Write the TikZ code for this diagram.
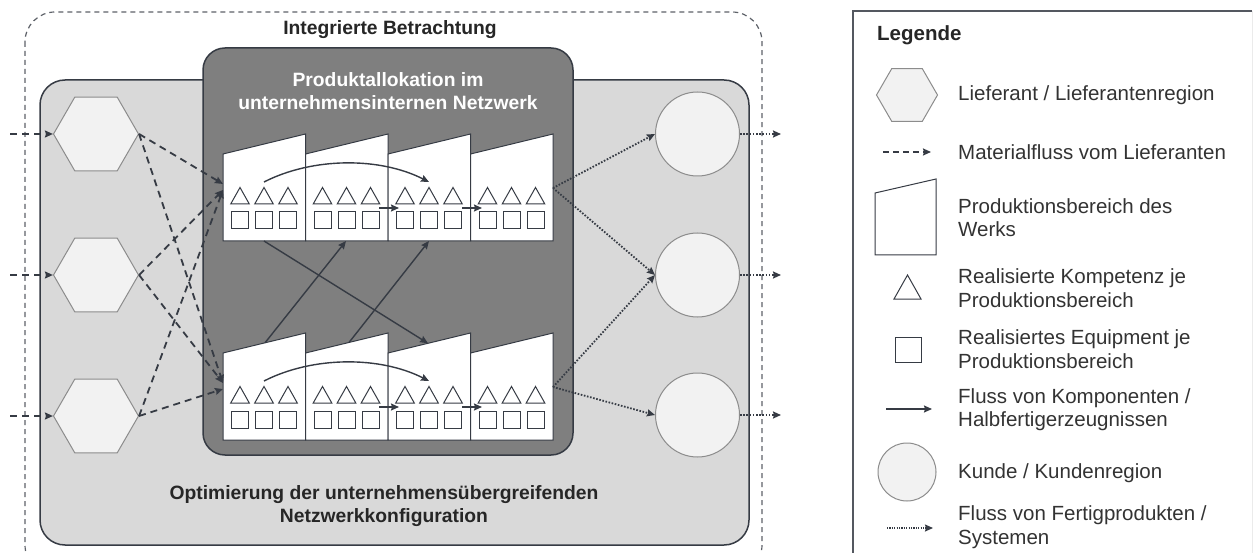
\documentclass[tikz,border=0pt]{standalone}
\usepackage{fontspec}
\setmainfont{Liberation Sans}
\usetikzlibrary{shapes.geometric,arrows.meta}
\definecolor{lnc}{HTML}{363B44}
\definecolor{lightbg}{HTML}{D9D9D9}
\definecolor{darkbg}{HTML}{7F7F7F}
\definecolor{shapefill}{HTML}{F2F2F2}
\definecolor{shapeline}{HTML}{8C8C8C}
\definecolor{txt}{HTML}{262626}
\definecolor{legtxt}{HTML}{333333}
\tikzset{
  tip/.style={-{Stealth[length=8pt,width=7pt,inset=1pt]}},
  solidflow/.style={draw=lnc,line width=1.4pt,tip},
  dashflow/.style={draw=lnc,line width=1.8pt,dash pattern=on 7pt off 5pt,tip},
  dotflow/.style={draw=lnc,line width=1.8pt,dash pattern=on 1.6pt off 1.6pt,tip},
  secline/.style={draw=lnc,line width=1pt,fill=white},
  symline/.style={draw=lnc,line width=1pt},
  hexa/.style={regular polygon,regular polygon sides=6,minimum size=85pt,inner sep=0pt,fill=shapefill,draw=shapeline,line width=1pt},
  cust/.style={circle,minimum size=84pt,inner sep=0pt,fill=shapefill,draw=shapeline,line width=1pt},
  boldtitle/.style={font=\fontsize{19.3}{23}\selectfont\bfseries,align=center,inner sep=0pt},
  legtext/.style={font=\fontsize{20.5}{23.5}\selectfont,text=legtxt,align=left,anchor=west,inner sep=0pt},
  factory/.pic={
    \foreach \i in {0,1,2,3} {
      \pgfmathsetmacro\xo{82.5*\i}
      \draw[secline] (\xo,0) -- (\xo,-87) -- (\xo+82.5,-107) -- (\xo+82.5,0) -- cycle;
      \foreach \d in {17,41,65} {
        \draw[symline] (\xo+\d-9.3,-37) -- (\xo+\d,-53.5) -- (\xo+\d+9.3,-37) -- cycle;
        \draw[symline] (\xo+\d-8.5,-29) rectangle (\xo+\d+8.5,-12);
      }
    }
    \coordinate (-inA) at (0,-57);
    \coordinate (-inB) at (0,-51);
    \coordinate (-out) at (330,-53);
    \coordinate (-b1) at (41,0);
    \coordinate (-b2) at (123,0);
    \coordinate (-b3) at (206,0);
    \coordinate (-r1) at (42,-97.2);
    \coordinate (-r2) at (126,-97.5);
    \coordinate (-r3) at (205,-96.7);
    \coordinate (-ca) at (41,-59);
    \coordinate (-cb) at (206,-59);
    \coordinate (-sa1) at (156,-33);
    \coordinate (-sa2) at (176,-33);
    \coordinate (-sb1) at (239,-33);
    \coordinate (-sb2) at (259,-33);
    \draw[solidflow] (-ca) .. controls (90,-84) and (157,-84) .. (-cb);
    \draw[solidflow] (-sa1) -- (-sa2);
    \draw[solidflow] (-sb1) -- (-sb2);
  }
}
\begin{document}
\begin{tikzpicture}[x=1pt,y=-1pt]
\clip (0,0) rectangle (1255,553);
\fill[white] (0,0) rectangle (1255,553);

% outer dashed frame
\draw[draw=lnc!80,line width=1.2pt,dash pattern=on 5pt off 4pt,rounded corners=30pt] (25,12) rectangle (762,575);
\node[boldtitle,text=txt] (tInt) at (390,30) {Integrierte Betrachtung};

% light box
\draw[draw=lnc,line width=1.5pt,fill=lightbg,rounded corners=25pt] (40,80) rectangle (749,545);
\node[boldtitle,text=txt] (tOpt) at (384,506) {Optimierung der unternehmensübergreifenden\\Netzwerkkonfiguration};

% dark box
\draw[draw=lnc,line width=1.5pt,fill=darkbg,rounded corners=22pt] (203,48) rectangle (573,455);
\node[boldtitle,text=white] (tProd) at (388,91) {Produktallokation im\\unternehmensinternen Netzwerk};

% factories
\pic (ft) at (223,241) {factory};
\pic (fb) at (223,440) {factory};

% cross flows between plants
\draw[solidflow] (ft-b1) -- (fb-r3);
\draw[solidflow] (fb-r1) -- (ft-b2);
\draw[solidflow] (fb-r2) -- (ft-b3);

% suppliers
\node[hexa] (h1) at (96,134) {};
\node[hexa] (h2) at (96,275) {};
\node[hexa] (h3) at (96,416) {};
\coordinate (i1) at (10,134);
\coordinate (i2) at (10,275);
\coordinate (i3) at (10,416);
\draw[dashflow] (i1) -- (h1.west);
\draw[dashflow] (i2) -- (h2.west);
\draw[dashflow] (i3) -- (h3.west);
\draw[dashflow] (h1.east) -- (ft-inA);
\draw[dashflow] (h1.east) -- (fb-inA);
\draw[dashflow] (h2.east) -- (ft-inB);
\draw[dashflow] (h2.east) -- (fb-inA);
\draw[dashflow] (h3.east) -- (ft-inB);
\draw[dashflow] (h3.east) -- (fb-inB);

% customers
\node[cust] (c1) at (697.5,134) {};
\node[cust] (c2) at (697.5,275) {};
\node[cust] (c3) at (697.5,415) {};
\draw[dotflow] (ft-out) -- (c1.west);
\draw[dotflow] (ft-out) -- (c2.west);
\draw[dotflow] (fb-out) -- (c2.west);
\draw[dotflow] (fb-out) -- (c3.west);
\coordinate (o1) at (781,134);
\coordinate (o2) at (781,275);
\coordinate (o3) at (781,415);
\draw[dotflow] (c1.east) -- (o1);
\draw[dotflow] (c2.east) -- (o2);
\draw[dotflow] (c3.east) -- (o3);

% legend
\draw[draw=black!8,line width=1pt] (1252,11) -- (1252,560);
\draw[draw=lnc!85,line width=1.8pt] (853,560) -- (853,11) -- (1252,11);
\node[font=\fontsize{20.5}{23}\selectfont\bfseries,text=txt,anchor=west,inner sep=0pt] (lTitle) at (877,35) {Legende};

\node[hexa,minimum size=61pt] (lh) at (907,95) {};
\node[legtext] (lhT) at (958,95) {Lieferant / Lieferantenregion};

\coordinate (ld1) at (883,152);
\coordinate (ld2) at (931,152);
\draw[dashflow,line width=1.6pt,dash pattern=on 6pt off 4pt] (ld1) -- (ld2);
\node[legtext] (ldT) at (958,152) {Materialfluss vom Lieferanten};

\draw[secline] (875,255) -- (875,193) -- (936,179) -- (936,255) -- cycle;
\node[legtext] (lfT) at (958,217.5) {Produktionsbereich des\\Werks};

\draw[symline] (894,299) -- (907.5,275) -- (921,299) -- cycle;
\node[legtext] (ltT) at (958,288) {Realisierte Kompetenz je\\Produktionsbereich};

\draw[symline] (895,337) rectangle (921,362);
\node[legtext] (lsT) at (958,349) {Realisiertes Equipment je\\Produktionsbereich};

\coordinate (la1) at (886,409);
\coordinate (la2) at (932,409);
\draw[solidflow] (la1) -- (la2);
\node[legtext] (laT) at (958,409.5) {Fluss von Komponenten /\\Halbfertigerzeugnissen};

\node[cust,minimum size=58pt] (lc) at (907,472) {};
\node[legtext] (lcT) at (958,473) {Kunde / Kundenregion};

\coordinate (lo1) at (887,528);
\coordinate (lo2) at (933,528);
\draw[dotflow,line width=1.3pt,dash pattern=on 1.2pt off 1.2pt] (lo1) -- (lo2);
\node[legtext] (loT) at (958,527) {Fluss von Fertigprodukten /\\Systemen};
\end{tikzpicture}
\end{document}
